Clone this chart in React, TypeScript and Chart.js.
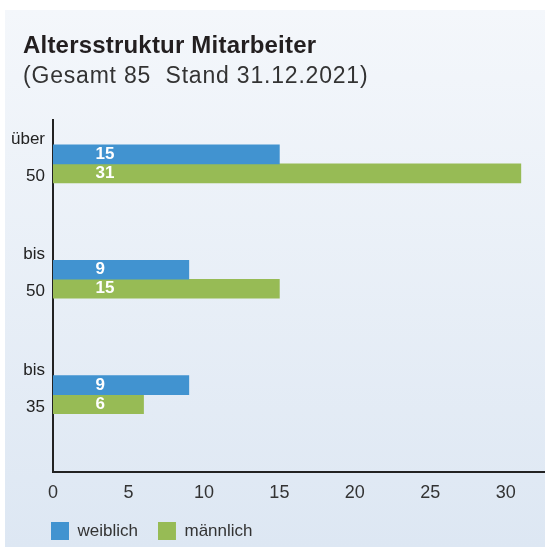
import React, { useEffect, useRef } from "react";
import { Chart, registerables } from "chart.js";

Chart.register(...registerables);

const titleText = "Altersstruktur Mitarbeiter";
const subtitleText = "(Gesamt 85  Stand 31.12.2021)";
const ageGroups: string[][] = [["über", "50"], ["bis", "50"], ["bis", "35"]];
const groupIndex = [0, 1, 2];
const weiblich = [15, 9, 9];
const maennlich = [31, 15, 6];
const seriesNames = ["weiblich", "männlich"];
const xTicks = [0, 5, 10, 15, 20, 25, 30];

const FONT = "'Liberation Sans', Arial, Helvetica, sans-serif";

const valueLabels = {
  id: "valueLabels",
  afterDatasetsDraw(chart: any) {
    const ctx = chart.ctx;
    const xs = chart.scales.x;
    ctx.save();
    ctx.fillStyle = "#ffffff";
    ctx.font = `bold 17px ${FONT}`;
    ctx.textAlign = "left";
    ctx.textBaseline = "middle";
    chart.data.datasets.forEach((ds: any, i: number) => {
      const meta = chart.getDatasetMeta(i);
      meta.data.forEach((el: any, j: number) => {
        const v = ds.data[j].x;
        ctx.fillText(String(v), xs.getPixelForValue(0) + 42.5, el.y);
      });
    });
    ctx.restore();
  },
};

// moves the legend block so that it starts under the plot, as in the reference
const legendShift = {
  id: "legendShift",
  afterLayout(chart: any) {
    if (chart.legend) {
      chart.legend.left += 31;
      chart.legend.right += 31;
    }
  },
};

export default function App() {
  const ref = useRef<HTMLCanvasElement>(null);

  useEffect(() => {
    Chart.defaults.font.family = FONT;
    const chart = new Chart(ref.current as HTMLCanvasElement, {
      type: "bar",
      data: {
        datasets: [
          {
            label: seriesNames[0],
            data: groupIndex.map((g, i) => ({ x: weiblich[i], y: g })),
            backgroundColor: "#4193d0",
            borderWidth: 0,
            barThickness: 19,
          },
          {
            label: seriesNames[1],
            data: groupIndex.map((g, i) => ({ x: maennlich[i], y: g })),
            backgroundColor: "#97bb55",
            borderWidth: 0,
            barThickness: 19,
          },
        ],
      } as any,
      options: {
        indexAxis: "y",
        responsive: false,
        animation: false,
        layout: { padding: { left: 0, top: 120, right: 0, bottom: 10 } },
        plugins: {
          legend: {
            position: "bottom",
            align: "start",
            labels: {
              boxWidth: 18,
              boxHeight: 18,
              padding: 20,
              color: "#333333",
              font: { size: 17, family: FONT },
            },
          },
          tooltip: { enabled: false },
          title: { display: false },
        },
        scales: {
          x: {
            type: "linear",
            min: 0,
            max: 32.6,
            offset: false,
            grid: { display: false, drawTicks: false },
            border: { display: true, color: "#222222", width: 2 },
            ticks: {
              color: "#333333",
              font: { size: 18, family: FONT },
              padding: 10,
              autoSkip: false,
              maxRotation: 0,
            },
            afterBuildTicks: (s: any) => {
              s.ticks = xTicks.map((v) => ({ value: v }));
            },
            afterFit: (s: any) => {
              s.height = 30;
            },
          },
          y: {
            type: "linear",
            reverse: true,
            min: -0.38,
            max: 2.67,
            offset: false,
            z: 1,
            grid: { display: false, drawTicks: false },
            border: { display: true, color: "#222222", width: 2 },
            ticks: {
              color: "#222222",
              font: { size: 17, family: FONT, lineHeight: 2.18 },
              padding: 8,
              labelOffset: -6,
              autoSkip: false,
              callback: (v: any) => ageGroups[v] ?? "",
            },
            afterBuildTicks: (s: any) => {
              s.ticks = groupIndex.map((v) => ({ value: v }));
            },
            afterFit: (s: any) => {
              s.width = 53;
            },
          },
        },
      } as any,
      plugins: [valueLabels, legendShift],
    });
    return () => chart.destroy();
  }, []);

  return (
    <div
      style={{
        position: "absolute",
        left: 0,
        top: 0,
        width: 545,
        height: 547,
        overflow: "hidden",
        background: "#ffffff",
      }}
    >
      <div
        style={{
          position: "absolute",
          left: 5,
          top: 10,
          right: 0,
          bottom: 0,
          background: "linear-gradient(to bottom, #f4f7fb, #dde7f3)",
        }}
      />
      <canvas
        ref={ref}
        width={545}
        height={560}
        style={{ position: "absolute", left: 0, top: 0, width: 545, height: 560 }}
      />
      <div
        style={{
          position: "absolute",
          left: 23,
          top: 33,
          fontFamily: FONT,
          fontWeight: "bold",
          fontSize: 24,
          lineHeight: "24px",
          letterSpacing: "0.2px",
          color: "#231f20",
          whiteSpace: "pre",
        }}
      >
        {titleText}
      </div>
      <div
        style={{
          position: "absolute",
          left: 23,
          top: 64,
          fontFamily: FONT,
          fontSize: 23,
          lineHeight: "23px",
          letterSpacing: "0.8px",
          color: "#333333",
          whiteSpace: "pre",
        }}
      >
        {subtitleText}
      </div>
    </div>
  );
}
